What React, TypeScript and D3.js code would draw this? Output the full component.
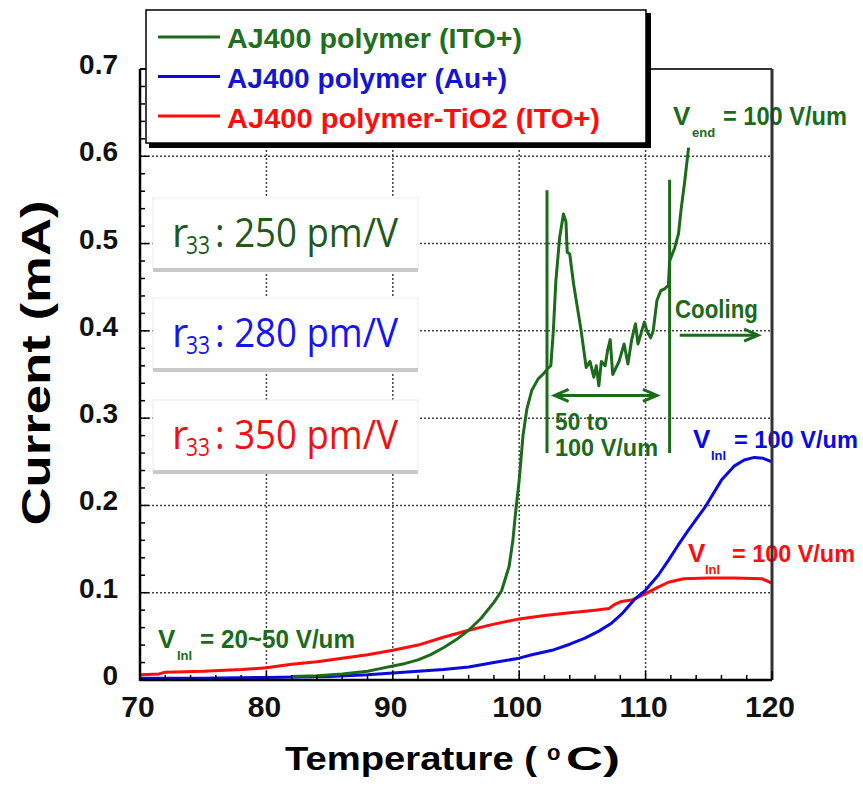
import React from 'react';
import * as d3 from 'd3';

// ---------- data ----------
const greenT = [82, 84, 86, 88, 89, 90, 91, 92, 93, 94, 95, 96, 97, 98, 98.6, 99.2, 99.5, 99.7, 100, 100.3, 100.6, 101, 101.5, 102, 102.2, 102.5, 102.7, 102.9, 103.2, 103.5, 103.7, 103.8, 104, 104.3, 104.9, 105.3, 105.6, 105.9, 106.1, 106.3, 106.5, 106.8, 107, 107.2, 107.4, 107.9, 108.3, 108.6, 108.9, 109.2, 109.4, 109.7, 109.9, 110.1, 110.4, 110.6, 110.9, 111.2, 111.5, 111.8, 111.9, 112.3, 112.6, 112.8, 113.1, 113.4];
const greenV = [0.004, 0.005, 0.007, 0.01, 0.013, 0.016, 0.019, 0.023, 0.029, 0.037, 0.046, 0.057, 0.071, 0.089, 0.102, 0.13, 0.16, 0.19, 0.229, 0.28, 0.31, 0.332, 0.345, 0.352, 0.356, 0.36, 0.4, 0.457, 0.507, 0.534, 0.525, 0.49, 0.488, 0.454, 0.4, 0.358, 0.365, 0.347, 0.36, 0.337, 0.365, 0.36, 0.378, 0.39, 0.35, 0.365, 0.385, 0.362, 0.39, 0.408, 0.385, 0.4, 0.41, 0.4, 0.392, 0.4, 0.435, 0.446, 0.448, 0.452, 0.48, 0.495, 0.511, 0.538, 0.572, 0.61];

const blueT = [70, 75, 80, 85, 88, 90, 92, 94, 96, 98, 100, 101, 102.6, 104, 105.2, 106.3, 107.3, 108.2, 109.1, 110, 111, 111.8, 112.6, 113.4, 114.7, 116, 117, 117.8, 118.6, 119.3, 120];
const blueV = [0.002, 0.002, 0.003, 0.004, 0.006, 0.008, 0.01, 0.012, 0.015, 0.02, 0.025, 0.029, 0.034, 0.041, 0.048, 0.056, 0.065, 0.077, 0.092, 0.103, 0.12, 0.137, 0.155, 0.172, 0.198, 0.229, 0.245, 0.252, 0.255, 0.254, 0.25];

const redT = [70, 71.5, 72, 75, 78, 80, 82, 84, 86, 88, 90, 92, 94, 96, 98, 100, 102, 104, 106, 107.1, 107.6, 108.1, 109, 110, 110.8, 111.8, 113, 115, 117, 119.2, 120];
const redV = [0.006, 0.007, 0.009, 0.01, 0.012, 0.014, 0.018, 0.021, 0.025, 0.029, 0.034, 0.04, 0.049, 0.057, 0.064, 0.07, 0.074, 0.077, 0.08, 0.082, 0.087, 0.09, 0.092, 0.099, 0.105, 0.112, 0.116, 0.117, 0.117, 0.116, 0.111];

// voltage-step marker lines on the green trace
const stepT = [102.2, 111.9];
const stepLow = [0.26, 0.26];
const stepHigh = [0.561, 0.573];

const seriesNames = ['AJ400 polymer (ITO+)', 'AJ400 polymer (Au+)', 'AJ400 polymer-TiO2 (ITO+)'];
const r33Values = ['250', '280', '350'];
const xTicks = [70, 80, 90, 100, 110, 120];
const yTicks = [0, 0.1, 0.2, 0.3, 0.4, 0.5, 0.6, 0.7];
const yTickLabels = ['0', '0.1', '0.2', '0.3', '0.4', '0.5', '0.6', '0.7'];

const GREEN = '#1b6b1b';
const BLUE = '#0a0ae0';
const RED = '#ff0d0d';
const F = "'Liberation Sans', Arial, Helvetica, sans-serif";
const FR = "'Open Sans', 'Noto Sans', 'Liberation Sans', sans-serif";

export default function App() {
  const W = 863, H = 791;
  const x = d3.scaleLinear().domain([70, 120]).range([140, 772]);
  const y = d3.scaleLinear().domain([0, 0.7]).range([680, 69]);

  const line = d3.line<[number, number]>().x(d => x(d[0])).y(d => y(d[1]));
  const zip = (t: number[], v: number[]) => t.map((tt, i) => [tt, v[i]] as [number, number]);

  const series = [
    { name: seriesNames[2], color: RED, d: zip(redT, redV) },
    { name: seriesNames[1], color: BLUE, d: zip(blueT, blueV) },
    { name: seriesNames[0], color: GREEN, d: zip(greenT, greenV) },
  ];

  const minorY = d3.range(0, 0.7001, 0.02);
  const minorX = d3.range(70, 120.001, 2);

  const vLabel = (key: string, color: string, vx: number, vy: number, sub: string, subDx: number, rest: string, restX: number, restW: number, restSize = 26) => (
    <g key={key} fill={color} fontFamily={F} fontWeight="bold">
      <text x={vx} y={vy} fontSize={26}>V</text>
      <text x={vx + subDx} y={vy + 12} fontSize={13}>{sub}</text>
      <text x={restX} y={vy} fontSize={restSize} textLength={restW} lengthAdjust="spacingAndGlyphs">{rest}</text>
    </g>
  );

  const arrowHead = (tx: number, ty: number, dir: number, color: string, key: string) => (
    <path key={key} d={`M${tx - dir * 14},${ty - 6} L${tx},${ty} L${tx - dir * 14},${ty + 6}`} fill="none" stroke={color} strokeWidth={3} />
  );

  const boxTops = [198, 298, 400];
  const boxColors = ['#1e5a1e', '#1515ee', '#ee1111'];
  const legendTextColors = ['#1f6f1f', '#1515d0', RED];
  const legendWidths = [295, 280, 373];

  const coolY = y(0.395);
  const rangeY = y(0.326);

  return (
    <svg width={W} height={H} style={{ position: 'absolute', left: 0, top: 0, background: '#fff' }}>
      <rect x={0} y={0} width={W} height={H} fill="#fff" />
      {/* grid */}
      <g stroke="#444" strokeWidth={1.5} strokeDasharray="2,2">
        {yTicks.filter(v => v > 0 && v < 0.7).map(v => (
          <line key={'gy' + v} x1={x(70)} x2={x(120)} y1={y(v)} y2={y(v)} />
        ))}
        {xTicks.filter(t => t > 70 && t < 120).map(t => (
          <line key={'gx' + t} x1={x(t)} x2={x(t)} y1={y(0)} y2={y(0.7)} />
        ))}
      </g>

      {/* r33 boxes */}
      {r33Values.map((v, i) => (
        <g key={'r' + i}>
          <rect x={153} y={boxTops[i]} width={265} height={72} fill="#fff" stroke="#ececec" strokeWidth={1} />
          <rect x={153} y={boxTops[i] + 70} width={265} height={4} fill="#c9c9c9" />
          <g fill={boxColors[i]} fontFamily={FR} fontWeight={500}>
            <text x={172} y={boxTops[i] + 49} fontSize={40}>r</text>
            <text x={186} y={boxTops[i] + 56} fontSize={25} textLength={24} lengthAdjust="spacingAndGlyphs">33</text>
            <text x={215} y={boxTops[i] + 49} fontSize={40} textLength={183} lengthAdjust="spacingAndGlyphs">: {v} pm/V</text>
          </g>
        </g>
      ))}

      {/* curves */}
      {series.map(s => (
        <path key={s.name} d={line(s.d) || ''} fill="none" stroke={s.color} strokeWidth={3} strokeLinejoin="round" />
      ))}
      {stepT.map((t, i) => (
        <line key={'st' + i} x1={x(t)} x2={x(t)} y1={y(stepLow[i])} y2={y(stepHigh[i])} stroke={GREEN} strokeWidth={3} />
      ))}

      {/* annotations */}
      {vLabel('vend', GREEN, 673, 125, 'end', 19, '= 100 V/um', 723, 124)}
      {vLabel('vblue', BLUE, 693, 448, 'Inl', 18, '= 100 V/um', 734, 124, 24)}
      {vLabel('vred', RED, 688, 562, 'Inl', 17, '= 100 V/um', 732, 123, 24)}
      {vLabel('vgreen', GREEN, 158, 648, 'Inl', 19, '= 20~50 V/um', 200, 155)}

      <text x={675} y={318} fill={GREEN} fontFamily={F} fontWeight="bold" fontSize={26} textLength={83} lengthAdjust="spacingAndGlyphs">Cooling</text>
      <line x1={x(112.7)} x2={x(118.9)} y1={coolY} y2={coolY} stroke={GREEN} strokeWidth={3} />
      {arrowHead(x(118.9), coolY, 1, GREEN, 'ca')}

      <line x1={x(102.8)} x2={x(110.9)} y1={rangeY} y2={rangeY} stroke={GREEN} strokeWidth={3} />
      {arrowHead(x(110.9), rangeY, 1, GREEN, 'ra1')}
      {arrowHead(x(102.8), rangeY, -1, GREEN, 'ra2')}
      <text x={555} y={430} fill={GREEN} fontFamily={F} fontWeight="bold" fontSize={24} textLength={53} lengthAdjust="spacingAndGlyphs">50 to</text>
      <text x={555} y={456} fill={GREEN} fontFamily={F} fontWeight="bold" fontSize={24} textLength={103} lengthAdjust="spacingAndGlyphs">100 V/um</text>

      {/* axes frame */}
      <line x1={x(70)} x2={x(120)} y1={y(0.7)} y2={y(0.7)} stroke="#333" strokeWidth={2} />
      <line x1={x(120)} x2={x(120)} y1={y(0.7)} y2={y(0)} stroke="#333" strokeWidth={3} />
      <line x1={x(70)} x2={x(70)} y1={y(0.7)} y2={y(0) + 1} stroke="#000" strokeWidth={2.5} />
      <line x1={x(70)} x2={x(120)} y1={y(0)} y2={y(0)} stroke="#000" strokeWidth={2.5} />
      <g stroke="#000" strokeWidth={1.5}>
        {minorY.map((v, i) => (
          <line key={'my' + i} x1={x(70)} x2={x(70) + (i % 5 === 0 ? 9 : 5)} y1={y(v)} y2={y(v)} />
        ))}
        {minorX.map((t, i) => (
          <line key={'mx' + i} x1={x(t)} x2={x(t)} y1={y(0)} y2={y(0) - (i % 5 === 0 ? 9 : 5)} />
        ))}
      </g>

      {/* tick labels */}
      <g fontFamily={F} fontWeight="bold" fill="#111">
        {yTicks.map((v, i) => (
          <text key={'yl' + i} x={118} y={y(v) + 5} fontSize={28} textAnchor="end">{yTickLabels[i]}</text>
        ))}
        {xTicks.map(t => (
          <text key={'xl' + t} x={x(t) - 2} y={717} fontSize={30} textAnchor="middle">{t}</text>
        ))}
      </g>

      {/* axis titles */}
      <g fontFamily={F} fontWeight="bold" fill="#000">
        <text x={285} y={770} fontSize={34} textLength={252} lengthAdjust="spacingAndGlyphs">Temperature (</text>
        <text x={547} y={760} fontSize={22}>o</text>
        <text x={566} y={770} fontSize={34} textLength={54} lengthAdjust="spacingAndGlyphs">C)</text>
        <text transform="translate(50,363) rotate(-90)" x={0} y={0} fontSize={40} textAnchor="middle" textLength={325} lengthAdjust="spacingAndGlyphs">Current (mA)</text>
      </g>

      {/* legend */}
      <rect x={149} y={13} width={502} height={135} fill="#000" />
      <rect x={146} y={10} width={500} height={133} fill="#fff" stroke="#000" strokeWidth={1.5} />
      {[GREEN, BLUE, RED].map((c, i) => (
        <g key={'lg' + i}>
          <line x1={158} x2={220} y1={37 + i * 39.5} y2={37 + i * 39.5} stroke={c} strokeWidth={3} />
          <text x={227} y={48 + i * 40} fill={legendTextColors[i]} fontFamily={F} fontWeight="bold" fontSize={28} textLength={legendWidths[i]} lengthAdjust="spacingAndGlyphs">{seriesNames[i]}</text>
        </g>
      ))}
    </svg>
  );
}
